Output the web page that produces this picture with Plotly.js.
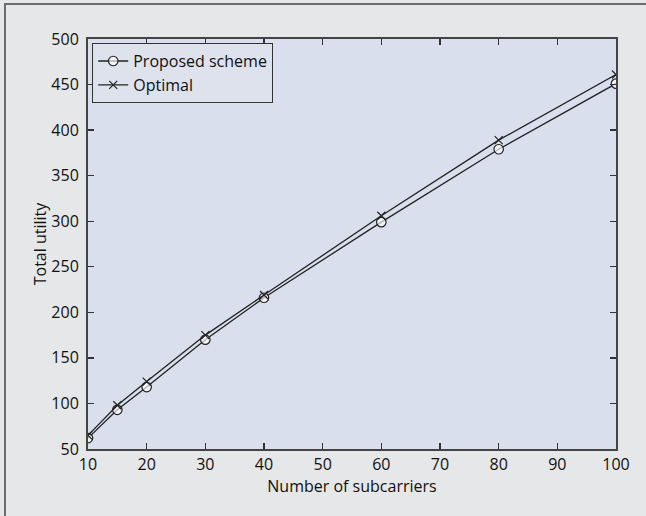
<!DOCTYPE html>
<html><head><meta charset="utf-8">
<script src="https://cdn.plot.ly/plotly-3.0.1.min.js"></script>
<style>
html,body{margin:0;padding:0;background:#e6e7e8;}
#frame{position:absolute;left:0;top:0;width:646px;height:516px;overflow:hidden;}
#bl{position:absolute;left:4px;top:3px;width:2px;height:513px;background:#6b6b6b;}
#bt{position:absolute;left:4px;top:3px;width:642px;height:2px;background:#6b6b6b;}
#chart{position:absolute;left:0;top:0;width:646px;height:516px;}
</style></head>
<body>
<div id="frame"><div id="chart"></div><div id="bl"></div><div id="bt"></div></div>
<script>
const subcarriers = [10, 15, 20, 30, 40, 60, 80, 100];
const proposed = [62, 93, 118, 170, 216, 299, 379, 451];
const optimal = [65, 98, 124, 175, 219, 306, 389, 461];
const xTicks = [10, 20, 30, 40, 50, 60, 70, 80, 90, 100];
const yTicks = [50, 100, 150, 200, 250, 300, 350, 400, 450, 500];

const font = {family: "Open Sans, Noto Sans, sans-serif", size: 16, color: "#111"};
const traces = [
  {x: subcarriers, y: proposed, name: "Proposed scheme", mode: "lines+markers",
   line: {color: "#222", width: 1.3},
   marker: {symbol: "circle", size: 9.5, color: "rgba(255,255,255,0.65)", line: {color: "#222", width: 1.2}}},
  {x: subcarriers, y: optimal, name: "Optimal", mode: "lines+markers",
   line: {color: "#222", width: 1.3},
   marker: {symbol: "x-thin-open", size: 8, color: "#222", line: {color: "#222", width: 1.2}}}
];
const axisCommon = {showgrid: false, zeroline: false, ticks: "inside", ticklen: 6, tickwidth: 1.3,
  tickcolor: "#333", showline: true, linecolor: "#444", linewidth: 2, mirror: "ticks",
  tickfont: font};
const layout = {
  width: 646, height: 516,
  paper_bgcolor: "#e6e7e8", plot_bgcolor: "#d9dfec",
  margin: {l: 88, r: 30, t: 39, b: 67},
  font: font,
  showlegend: true,
  legend: {x: 0.008, y: 0.99, xanchor: "left", yanchor: "top", bgcolor: "#dde2ed",
    bordercolor: "#333", borderwidth: 1, font: font, tracegroupgap: 0, itemwidth: 30},
  xaxis: Object.assign({}, axisCommon, {range: [10, 100], tickvals: xTicks, ticklabelstandoff: 0,
    title: {text: "Number of subcarriers", font: font, standoff: 0}}),
  yaxis: Object.assign({}, axisCommon, {range: [50, 500], tickvals: yTicks, ticklabelstandoff: 4,
    title: {text: "Total utility", font: font, standoff: 0}})
};
Plotly.newPlot("chart", traces, layout, {staticPlot: true, displayModeBar: false});
</script>
</body></html>
